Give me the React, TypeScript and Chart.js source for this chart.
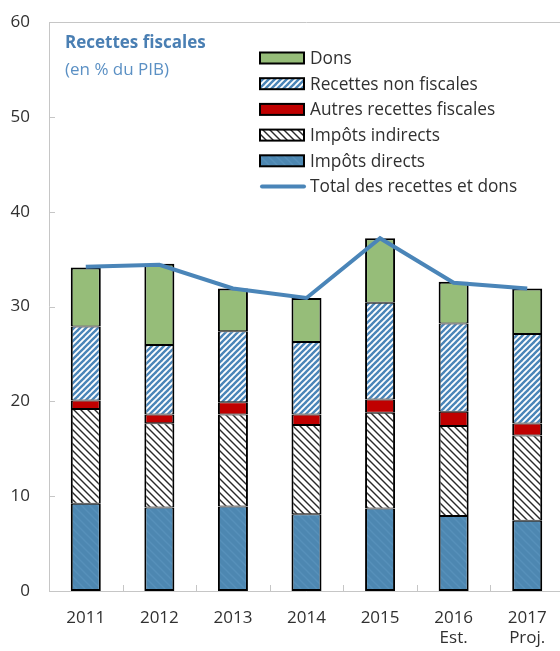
import React, { useEffect, useRef } from 'react';
import { Chart, registerables } from 'chart.js';

Chart.register(...registerables);

const categories: string[][] = [['2011'], ['2012'], ['2013'], ['2014'], ['2015'], ['2016', 'Est.'], ['2017', 'Proj.']];
const impotsDirects = [9.2, 8.8, 8.9, 8.1, 8.7, 7.9, 7.4];
const impotsIndirects = [10.0, 8.9, 9.7, 9.4, 10.1, 9.5, 9.0];
const autresRecettesFiscales = [0.9, 0.9, 1.3, 1.1, 1.4, 1.5, 1.25];
const recettesNonFiscales = [7.8, 7.35, 7.5, 7.65, 10.2, 9.3, 9.45];
const dons = [6.2, 8.55, 4.5, 4.65, 6.8, 4.4, 4.8];
const totalRecettesEtDons = [34.2, 34.4, 31.9, 30.9, 37.2, 32.5, 31.9];
const yTickValues = [0, 10, 20, 30, 40, 50, 60];

const titleText = 'Recettes fiscales';
const subtitleText = '(en % du PIB)';

const FONT = "'Open Sans', 'Noto Sans', sans-serif";
const TEXT_COLOR = '#303030';
const AXIS_COLOR = '#c6c6c6';
const LINE_COLOR = '#4a85b8';

function makePattern(kind: string): CanvasPattern | string {
  const size = kind === 'nonfisc' ? 6 : kind === 'indirect' ? 7 : 8;
  const c = document.createElement('canvas');
  c.width = size;
  c.height = size;
  const g = c.getContext('2d');
  if (!g) return '#fff';
  if (kind === 'nonfisc') {
    g.fillStyle = '#ffffff';
    g.fillRect(0, 0, size, size);
    g.strokeStyle = '#4a85b8';
    g.lineWidth = 2.4;
    for (const o of [-size, 0, size]) {
      g.beginPath();
      g.moveTo(o - 1, size + 1);
      g.lineTo(o + size + 1, -1);
      g.stroke();
    }
  } else if (kind === 'indirect') {
    g.fillStyle = '#ffffff';
    g.fillRect(0, 0, size, size);
    g.strokeStyle = '#2a2a2a';
    g.lineWidth = 1.4;
    for (const o of [-size, 0, size]) {
      g.beginPath();
      g.moveTo(o - 1, -1);
      g.lineTo(o + size + 1, size + 1);
      g.stroke();
    }
  } else {
    g.fillStyle = '#4d87b1';
    g.fillRect(0, 0, size, size);
    g.strokeStyle = '#5790ba';
    g.lineWidth = 1.5;
    for (const o of [-size, 0, size]) {
      g.beginPath();
      g.moveTo(o - 1, -1);
      g.lineTo(o + size + 1, size + 1);
      g.stroke();
    }
  }
  const ctx = document.createElement('canvas').getContext('2d');
  const p = ctx ? ctx.createPattern(c, 'repeat') : null;
  return p || '#ffffff';
}

const framePlugin = {
  id: 'excelFrame',
  beforeDatasetsDraw(chart: any) {
    const { ctx, chartArea } = chart;
    const x = chart.scales.x;
    const y = chart.scales.y;
    ctx.save();
    ctx.strokeStyle = AXIS_COLOR;
    ctx.lineWidth = 1;
    ctx.beginPath();
    ctx.moveTo(chartArea.left + 0.5, chartArea.top);
    ctx.lineTo(chartArea.left + 0.5, chartArea.bottom);
    ctx.moveTo(chartArea.left, chartArea.top + 0.5);
    ctx.lineTo(chartArea.right, chartArea.top + 0.5);
    ctx.moveTo(chartArea.left, chartArea.bottom + 0.5);
    ctx.lineTo(chartArea.right, chartArea.bottom + 0.5);
    for (const v of yTickValues) {
      const py = Math.round(y.getPixelForValue(v)) + 0.5;
      ctx.moveTo(chartArea.left, py);
      ctx.lineTo(chartArea.left + 6, py);
    }
    const n = categories.length;
    for (let i = 1; i < n; i++) {
      const px = Math.round((x.getPixelForValue(i - 1) + x.getPixelForValue(i)) / 2) + 0.5;
      ctx.moveTo(px, chartArea.bottom);
      ctx.lineTo(px, chartArea.bottom - 6);
    }
    ctx.stroke();
    ctx.restore();
  },
};

const legendTitlePlugin = {
  id: 'legendTitle',
  afterDraw(chart: any) {
    const { ctx } = chart;
    ctx.save();
    ctx.textBaseline = 'middle';
    ctx.textAlign = 'left';
    ctx.fillStyle = '#4a7fb3';
    ctx.font = `bold 17px ${FONT}`;
    ctx.fillText(titleText, 65, 43);
    ctx.fillStyle = '#5b90c4';
    ctx.font = `17px ${FONT}`;
    ctx.fillText(subtitleText, 65, 70);

    const ds = chart.data.datasets;
    const order = [4, 3, 2, 1, 0, 5];
    const boxX = 260;
    const boxW = 44;
    const boxH = 11;
    let cy = 58;
    ctx.font = `17.3px ${FONT}`;
    for (const idx of order) {
      const d = ds[idx];
      if (d.type === 'line') {
        ctx.strokeStyle = d.borderColor;
        ctx.lineWidth = 4;
        ctx.lineCap = 'round';
        ctx.beginPath();
        ctx.moveTo(boxX + 2, cy);
        ctx.lineTo(boxX + boxW, cy);
        ctx.stroke();
      } else {
        ctx.fillStyle = d.backgroundColor;
        ctx.fillRect(boxX, cy - boxH / 2, boxW, boxH);
        ctx.strokeStyle = '#000';
        ctx.lineWidth = 2;
        ctx.strokeRect(boxX, cy - boxH / 2, boxW, boxH);
      }
      ctx.fillStyle = TEXT_COLOR;
      ctx.fillText(d.label, 310, cy + 1);
      cy += 25.7;
    }
    ctx.restore();
  },
};

export default function App() {
  const ref = useRef<HTMLCanvasElement | null>(null);

  useEffect(() => {
    document.body.style.margin = '0';
    const canvas = ref.current;
    if (!canvas) return;
    const barCommon = {
      type: 'bar' as const,
      borderColor: '#000000',
      borderSkipped: false as const,
      barPercentage: 0.408,
      categoryPercentage: 1,
      stack: 'recettes',
      order: 1,
    };
    const chart = new Chart(canvas, {
      type: 'bar',
      data: {
        labels: categories,
        datasets: [
          { ...barCommon, label: 'Impôts directs', data: impotsDirects, backgroundColor: makePattern('direct'), borderWidth: { top: 1, bottom: 2, left: 2, right: 2 } },
          { ...barCommon, label: 'Impôts indirects', data: impotsIndirects, backgroundColor: makePattern('indirect'), borderWidth: { top: 1, bottom: 1, left: 2, right: 2 } },
          { ...barCommon, label: 'Autres recettes fiscales', data: autresRecettesFiscales, backgroundColor: '#c00000', borderWidth: { top: 1, bottom: 1, left: 2, right: 2 } },
          { ...barCommon, label: 'Recettes non fiscales', data: recettesNonFiscales, backgroundColor: makePattern('nonfisc'), borderWidth: { top: 1, bottom: 1, left: 2, right: 2 } },
          { ...barCommon, label: 'Dons', data: dons, backgroundColor: '#96bd79', borderWidth: { top: 2, bottom: 1, left: 2, right: 2 } },
          {
            type: 'line' as const,
            label: 'Total des recettes et dons',
            data: totalRecettesEtDons,
            borderColor: LINE_COLOR,
            backgroundColor: LINE_COLOR,
            borderWidth: 4,
            pointRadius: 0,
            tension: 0,
            stack: 'total',
            order: 0,
          } as any,
        ],
      },
      options: {
        responsive: false,
        maintainAspectRatio: false,
        animation: false,
        layout: { padding: { top: 22, right: 2, bottom: 0, left: 0 } },
        plugins: {
          legend: { display: false },
          title: { display: false },
          tooltip: { enabled: false },
        },
        scales: {
          x: {
            stacked: true,
            grid: { display: false, drawTicks: false },
            border: { display: false },
            ticks: {
              color: TEXT_COLOR,
              font: { family: FONT, size: 17 },
              padding: 17,
              maxRotation: 0,
              autoSkip: false,
            },
            afterFit(scale: any) {
              scale.height = 60;
              scale.paddingLeft = 0;
              scale.paddingRight = 0;
            },
          },
          y: {
            stacked: true,
            min: 0,
            max: 60,
            grid: { display: false, drawTicks: false },
            border: { display: false },
            ticks: {
              stepSize: 10,
              color: TEXT_COLOR,
              font: { family: FONT, size: 17 },
              padding: 19,
            },
            afterFit(scale: any) {
              scale.width = 49;
              scale.paddingTop = 0;
              scale.paddingBottom = 0;
            },
          },
        },
      },
      plugins: [framePlugin, legendTitlePlugin],
    });
    return () => chart.destroy();
  }, []);

  return (
    <div style={{ width: 560, height: 651, overflow: 'hidden', position: 'relative', background: '#fff' }}>
      <canvas ref={ref} width={566} height={651} style={{ display: 'block' }} />
    </div>
  );
}
